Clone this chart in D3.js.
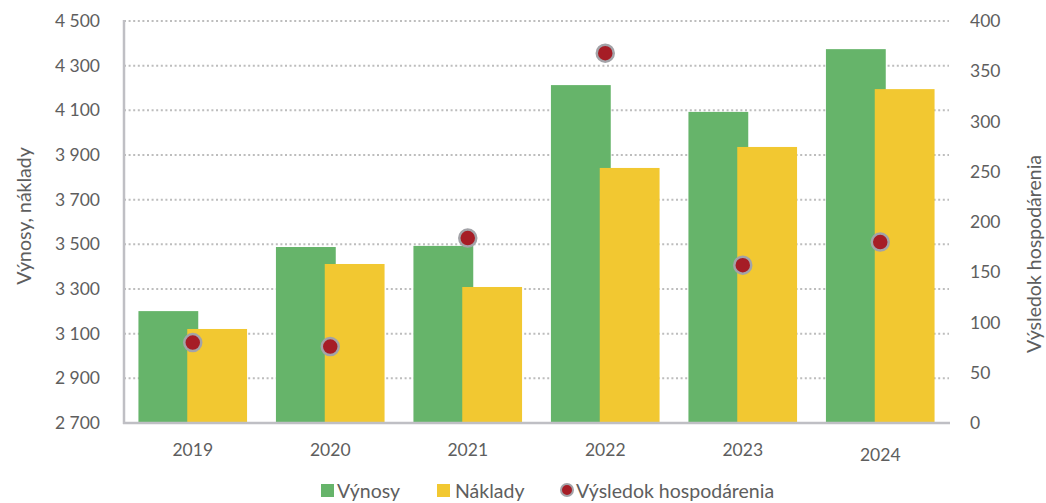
<!DOCTYPE html>
<meta charset="utf-8">
<style>
  body { margin: 0; background: #fff; }
  svg text { font-family: Lato, "Open Sans", sans-serif; fill: #5e5e5e; }
  .grid line { stroke: #bdbdbd; stroke-width: 2px; stroke-dasharray: 2,2.6; }
  .axis-line { stroke: #bfbfc4; stroke-width: 2.5px; }
</style>
<body>
<script src="https://cdn.jsdelivr.net/npm/d3@7"></script>
<script>
  // data
  var years = ["2019", "2020", "2021", "2022", "2023", "2024"];
  var vynosy = [3201, 3488, 3493, 4213, 4093, 4374];
  var naklady = [3121, 3412, 3309, 3842, 3936, 4195];
  var vysledok = [80, 76, 184, 368, 157, 180];
  var leftTicks = [2700, 2900, 3100, 3300, 3500, 3700, 3900, 4100, 4300, 4500];
  var rightTicks = [0, 50, 100, 150, 200, 250, 300, 350, 400];

  var GREEN = "#66b46a", YELLOW = "#f2c831", RED = "#a61d26";

  var width = 1046, height = 503;
  var margin = { top: 21, right: 97, bottom: 80, left: 124 };

  var svg = d3.select("body").append("svg")
    .attr("width", width)
    .attr("height", height);

  var x = d3.scaleBand()
    .domain(years)
    .range([margin.left, width - margin.right]);

  var y = d3.scaleLinear()
    .domain([2700, 4500])
    .range([height - margin.bottom, margin.top]);

  var y2 = d3.scaleLinear()
    .domain([0, 400])
    .range([height - margin.bottom, margin.top]);

  // gridlines (dotted), left scale
  svg.append("g").attr("class", "grid")
    .selectAll("line")
    .data(leftTicks.slice(1))
    .enter().append("line")
    .attr("x1", margin.left)
    .attr("x2", width - margin.right)
    .attr("y1", function(d) { return y(d); })
    .attr("y2", function(d) { return y(d); });

  // bars: two overlapping bars per year
  var bw = x.bandwidth() * 0.435;
  var off = x.bandwidth() * 0.105;

  svg.append("g").selectAll("rect")
    .data(years)
    .enter().append("rect")
    .attr("x", function(d) { return x(d) + off; })
    .attr("width", bw)
    .attr("y", function(d, i) { return y(vynosy[i]); })
    .attr("height", function(d, i) { return y(2700) - y(vynosy[i]); })
    .attr("fill", GREEN);

  svg.append("g").selectAll("rect")
    .data(years)
    .enter().append("rect")
    .attr("x", function(d) { return x(d) + x.bandwidth() - off - bw; })
    .attr("width", bw)
    .attr("y", function(d, i) { return y(naklady[i]); })
    .attr("height", function(d, i) { return y(2700) - y(naklady[i]); })
    .attr("fill", YELLOW);

  // axis lines
  svg.append("line").attr("class", "axis-line")
    .attr("x1", margin.left).attr("x2", margin.left)
    .attr("y1", margin.top - 1).attr("y2", height - margin.bottom + 1);
  svg.append("line").attr("class", "axis-line")
    .attr("x1", margin.left - 1).attr("x2", width - margin.right + 1)
    .attr("y1", height - margin.bottom).attr("y2", height - margin.bottom);

  // left axis labels
  var fmt = function(d) { return d3.format(",")(d).replace(",", " "); };
  svg.append("g").selectAll("text")
    .data(leftTicks)
    .enter().append("text")
    .attr("x", margin.left - 24)
    .attr("y", function(d) { return y(d); })
    .attr("dy", "0.35em")
    .attr("text-anchor", "end")
    .style("font-size", "17.5px")
    .text(fmt);

  // right axis labels
  svg.append("g").selectAll("text")
    .data(rightTicks)
    .enter().append("text")
    .attr("x", width - margin.right + 21)
    .attr("y", function(d) { return y2(d); })
    .attr("dy", "0.35em")
    .attr("text-anchor", "start")
    .style("font-size", "17.5px")
    .text(function(d) { return d; });

  // x labels (last one sits a bit lower in the original)
  svg.append("g").selectAll("text")
    .data(years)
    .enter().append("text")
    .attr("x", function(d) { return x(d) + x.bandwidth() / 2; })
    .attr("y", function(d, i) { return i == 5 ? 455 : 450; })
    .attr("dy", "0.35em")
    .attr("text-anchor", "middle")
    .style("font-size", "17.5px")
    .text(function(d) { return d; });

  // axis titles
  svg.append("text")
    .attr("transform", "translate(24," + 216 + ") rotate(-90)")
    .attr("text-anchor", "middle")
    .attr("dy", "0.35em")
    .style("font-size", "19.5px")
    .text("Výnosy, náklady");

  svg.append("text")
    .attr("transform", "translate(1034," + 254 + ") rotate(-90)")
    .attr("text-anchor", "middle")
    .attr("dy", "0.35em")
    .style("font-size", "19.5px")
    .text("Výsledok hospodárenia");

  // result dots
  svg.append("g").selectAll("circle")
    .data(years)
    .enter().append("circle")
    .attr("cx", function(d) { return x(d) + x.bandwidth() / 2; })
    .attr("cy", function(d, i) { return y2(vysledok[i]); })
    .attr("r", 8.5)
    .attr("fill", RED)
    .attr("stroke", "#a3a3a8")
    .attr("stroke-width", 2.5);

  // legend
  var lg = svg.append("g").attr("transform", "translate(0,491)");
  lg.append("rect").attr("x", 321).attr("y", -7).attr("width", 13).attr("height", 13).attr("fill", GREEN);
  lg.append("text").attr("x", 337).attr("dy", "0.35em").style("font-size", "19.5px").text("Výnosy");
  lg.append("rect").attr("x", 437).attr("y", -7).attr("width", 13).attr("height", 13).attr("fill", YELLOW);
  lg.append("text").attr("x", 455).attr("dy", "0.35em").style("font-size", "19.5px").text("Náklady");
  lg.append("circle").attr("cx", 567).attr("cy", -1).attr("r", 6)
    .attr("fill", RED).attr("stroke", "#a3a3a8").attr("stroke-width", 2);
  lg.append("text").attr("x", 576).attr("dy", "0.35em").style("font-size", "19.5px").text("Výsledok hospodárenia");
</script>
</body>
